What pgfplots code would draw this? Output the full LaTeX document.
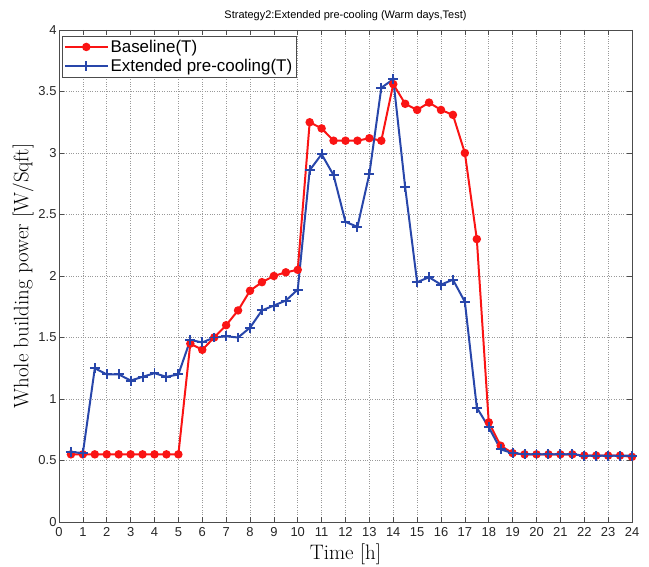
\documentclass[border=0pt]{standalone}
\usepackage{fontspec}
\newfontfamily\arial{Liberation Sans}
\usepackage{pgfplots}
\pgfplotsset{compat=1.18}
\definecolor{bred}{RGB}{250,20,20}
\definecolor{eblue}{RGB}{40,70,170}
\begin{document}
\begin{tikzpicture}
\path[use as bounding box] (-59bp,-45bp) rectangle (590bp,522bp);
\begin{axis}[
  at={(0,0)}, anchor=south west,
  scale only axis, width=573bp, height=492bp,
  xmin=0, xmax=24, ymin=0, ymax=4,
  xtick={0,1,...,24}, ytick={0,0.5,...,4},
  yticklabels={0,0.5,1,1.5,2,2.5,3,3.5,4},
  /pgf/number format/assume math mode=true,
  tick label style={font=\arial\fontsize{13}{14}\selectfont, text=black!85},
  xticklabel style={yshift=-2bp},
  yticklabel style={xshift=1bp},
  grid=major,
  major grid style={dotted, black!40, line width=0.6pt},
  tick align=inside, ticks=both, major tick length=5bp,
  axis line style={black!70, line width=0.7pt},
  tick style={black!70, line width=0.6pt},
  title={\arial Strategy2:Extended pre-cooling (Warm days,Test)},
  title style={font=\fontsize{11}{12}\selectfont, yshift=0bp},
  xlabel={Time [h]},
  ylabel={Whole building power [W/Sqft]},
  xlabel style={font=\fontsize{21}{22}\selectfont, yshift=0bp},
  ylabel style={font=\fontsize{21}{22}\selectfont, yshift=-2bp},
  legend style={at={(0.005,0.988)}, anchor=north west, font=\arial\fontsize{17}{18}\selectfont, draw=black!70, inner sep=2pt, row sep=1.5pt},
  legend cell align=left,
  legend image code/.code={\draw[mark repeat=2,mark phase=2] plot coordinates {(0cm,0cm) (0.75cm,0cm) (1.5cm,0cm)};},
]
\addplot[bred, line width=2pt, mark=*, mark size=3.2pt, mark options={solid}] coordinates {
(0.5,0.55)(1,0.55)(1.5,0.55)(2,0.55)(2.5,0.55)(3,0.55)(3.5,0.55)(4,0.55)(4.5,0.55)(5,0.55)
(5.5,1.45)(6,1.40)(6.5,1.50)(7,1.60)(7.5,1.72)(8,1.88)(8.5,1.95)(9,2.00)(9.5,2.03)(10,2.05)
(10.5,3.25)(11,3.20)(11.5,3.10)(12,3.10)(12.5,3.10)(13,3.12)(13.5,3.10)(14,3.56)
(14.5,3.40)(15,3.35)(15.5,3.41)(16,3.35)(16.5,3.31)(17,3.00)(17.5,2.30)(18,0.81)
(18.5,0.62)(19,0.56)(19.5,0.55)(20,0.55)(20.5,0.55)(21,0.55)(21.5,0.55)(22,0.54)(22.5,0.54)(23,0.54)(23.5,0.54)(24,0.53)
};
\addlegendentry{Baseline(T)}
\addplot[eblue, line width=2pt, mark=+, mark size=5pt, mark options={solid, line width=2pt}] coordinates {
(0.5,0.57)(1,0.56)(1.5,1.25)(2,1.20)(2.5,1.20)(3,1.15)(3.5,1.18)(4,1.21)(4.5,1.18)(5,1.20)
(5.5,1.48)(6,1.46)(6.5,1.50)(7,1.51)(7.5,1.50)(8,1.58)(8.5,1.72)(9,1.76)(9.5,1.80)(10,1.89)
(10.5,2.86)(11,2.99)(11.5,2.82)(12,2.44)(12.5,2.40)(13,2.83)(13.5,3.53)(14,3.60)
(14.5,2.72)(15,1.95)(15.5,1.99)(16,1.93)(16.5,1.97)(17,1.79)(17.5,0.93)(18,0.77)
(18.5,0.59)(19,0.56)(19.5,0.55)(20,0.55)(20.5,0.55)(21,0.55)(21.5,0.55)(22,0.54)(22.5,0.54)(23,0.54)(23.5,0.54)(24,0.54)
};
\addlegendentry{Extended pre-cooling(T)}
\end{axis}
\end{tikzpicture}
\end{document}
